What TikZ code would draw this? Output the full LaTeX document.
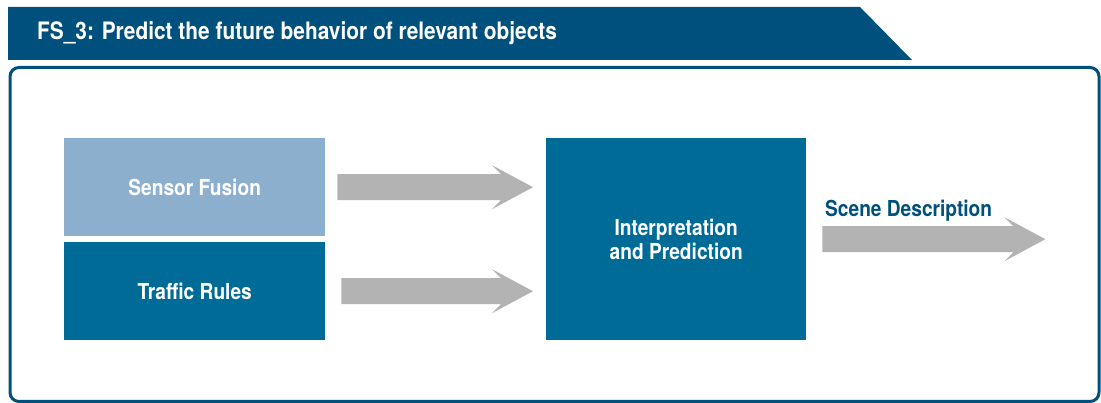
\documentclass[tikz,border=0pt]{standalone}
\usepackage{fontspec}
\setmainfont{TeX Gyre Heros}[FakeStretch=0.87]
\usetikzlibrary{calc,positioning}
\definecolor{headblue}{HTML}{00507E}
\definecolor{darkbox}{HTML}{006B97}
\definecolor{lightbox}{HTML}{8DAFCE}
\definecolor{arrowgray}{HTML}{B3B3B3}
\tikzset{
  box/.style={draw=none, inner sep=0pt, text=white, align=center,
    font=\fontsize{22}{24}\selectfont\bfseries},
  fatarrow/.style={fill=arrowgray, draw=none},
}
\newcommand\myfatarrow[2]{%
  \fill[fatarrow] ($(#1)+(0,-13)$) -- ($(#2)+(-32,-13)$) -- ($(#2)+(-41,-22)$)
    -- (#2) -- ($(#2)+(-41,22)$) -- ($(#2)+(-32,13)$) -- ($(#1)+(0,13)$) -- cycle;}
\begin{document}
\begin{tikzpicture}[x=1pt,y=-1pt]
\useasboundingbox (0,0) rectangle (1101,403);
% header banner
\fill[headblue] (8,7) -- (860,7) -- (912,60) -- (8,60) -- cycle;
\node[anchor=west, text=white, inner sep=0pt, font=\fontsize{24}{28}\selectfont\bfseries] (title) at (37,33) {FS\_3: Predict the future behavior of relevant objects};
% frame
\draw[headblue, line width=3pt, rounded corners=9pt] (10,67.5) rectangle (1099,401.5);
% boxes
\node[box, fill=lightbox, minimum width=261pt, minimum height=98pt, anchor=north west] (sf) at (64,138) {Sensor Fusion};
\node[box, fill=darkbox, minimum width=261pt, minimum height=98pt, anchor=north west] (tr) at (64,242) {Traffic Rules};
\node[box, fill=darkbox, minimum width=260pt, minimum height=202pt, anchor=north west] (ip) at (546,138) {Interpretation\\and Prediction};
% arrows
\coordinate (a1s) at ([xshift=12pt]sf.east);
\coordinate (a1e) at ([xshift=-13pt]ip.west |- sf.east);
\coordinate (a2s) at ([xshift=16pt]tr.east);
\coordinate (a2e) at ([xshift=-13pt]ip.west |- tr.east);
\coordinate (a3s) at ([xshift=16pt]ip.east);
\coordinate (a3e) at ([xshift=1045pt-806pt]ip.east);
\myfatarrow{a1s}{a1e}
\myfatarrow{a2s}{a2e}
\myfatarrow{a3s}{a3e}
\node[anchor=base west, inner sep=0pt, text=headblue, font=\fontsize{22}{24}\selectfont\bfseries] (sd) at (825,217) {Scene Description};
\end{tikzpicture}
\end{document}
